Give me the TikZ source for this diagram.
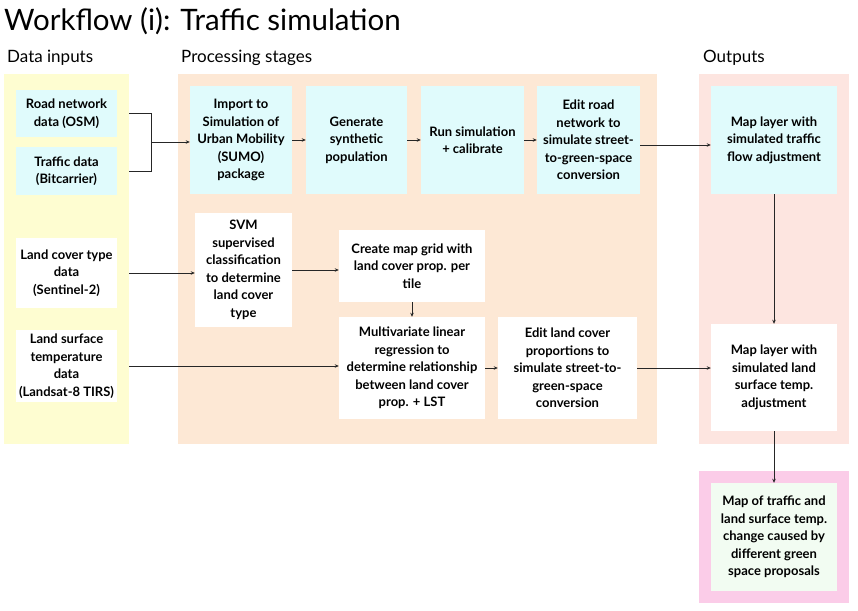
\documentclass[tikz,border=0pt]{standalone}
\usepackage{fontspec}
\setmainfont{Lato}
\usetikzlibrary{arrows.meta}

\definecolor{light-cyan}{RGB}{224, 251, 252}
\definecolor{light-yellow}{RGB}{254, 253, 209}
\definecolor{light-orange}{RGB}{253, 232, 213}
\definecolor{light-pink}{RGB}{253, 229, 224}
\definecolor{bright-pink}{RGB}{251, 204, 232}
\definecolor{light-green}{RGB}{242, 252, 242}

\begin{document}
\begin{tikzpicture}[
        x=1pt, y=-1pt,
        every node/.style={shape=rectangle, inner sep=0pt, align=center},
        box/.style={font=\bfseries\fontsize{13}{17.5}\selectfont},
        heading/.style={anchor=base west, font=\fontsize{17}{20}\selectfont},
        link/.style={draw=black!85, line width=0.7pt},
        arrow/.style={link, -{Stealth[length=4pt, width=3.5pt]}},
    ]
        \useasboundingbox (0,0) rectangle (858,610);

        \node[anchor=base west, font=\fontsize{29.5}{34}\selectfont] (title) at (4,31) {Workflow (i): Traffic simulation};
        \node[heading] (inhead) at (7,63) {Data inputs};
        \node[heading] (prochead) at (181,63) {Processing stages};
        \node[heading] (outhead) at (703,63) {Outputs};

        \node[fill=light-yellow, minimum width=125, minimum height=370] (inputs) at (66.5,259) {};
        \node[fill=light-orange, minimum width=479, minimum height=370] (stages) at (417.5,259) {};
        \node[fill=light-pink, minimum width=150, minimum height=370] (outputs) at (774,259) {};
        \node[fill=bright-pink, minimum width=150, minimum height=132] (finalpanel) at (774,537) {};

        \node[box, fill=light-cyan, minimum width=101, minimum height=47] (road) at (66.5,113.5) {Road network\\data (OSM)};
        \node[box, fill=light-cyan, minimum width=101, minimum height=48] (traffic) at (66.5,171) {Traffic data\\(Bitcarrier)};
        \node[box, fill=white, minimum width=101, minimum height=70] (landcover) at (66.5,273) {Land cover type\\data\\(Sentinel-2)};
        \node[box, fill=white, minimum width=101, minimum height=72] (lst) at (66.5,366) {Land surface\\temperature\\data\\(Landsat-8 TIRS)};

        \node[box, fill=light-cyan, minimum width=102, minimum height=108] (import) at (241,140) {Import to\\Simulation of\\Urban Mobility\\(SUMO)\\package};
        \node[box, fill=light-cyan, minimum width=101, minimum height=108] (generate) at (356.5,140) {Generate\\synthetic\\population};
        \node[box, fill=light-cyan, minimum width=103, minimum height=108] (run) at (472.5,140) {Run simulation\\+ calibrate};
        \node[box, fill=light-cyan, minimum width=103, minimum height=108] (editroad) at (588.5,140) {Edit road\\network to\\simulate street-\\to-green-space\\conversion};
        \node[box, fill=white, minimum width=97, minimum height=114] (svm) at (243.5,270) {SVM\\supervised\\classification\\to determine\\land cover\\type};
        \node[box, fill=white, minimum width=146, minimum height=72] (grid) at (412,266) {Create map grid with\\land cover prop. per\\tile};
        \node[box, fill=white, minimum width=146, minimum height=102] (mlr) at (412,368) {Multivariate linear\\regression to\\determine relationship\\between land cover\\prop. + LST};
        \node[box, fill=white, minimum width=139, minimum height=102] (editlc) at (567.5,368) {Edit land cover\\proportions to\\simulate street-to-\\green-space\\conversion};

        \node[box, fill=light-cyan, minimum width=126, minimum height=108] (maptraffic) at (774,140) {Map layer with\\simulated traffic\\flow adjustment};
        \node[box, fill=white, minimum width=126, minimum height=107] (maplst) at (774,377.5) {Map layer with\\simulated land\\surface temp.\\adjustment};
        \node[box, fill=light-green, minimum width=126, minimum height=108] (final) at (774,537) {Map of traffic and\\land surface temp.\\change caused by\\different green\\space proposals};

        \coordinate (merge) at (151,142);
        \draw[link] (road.east -| inputs.east) -| (merge);
        \draw[link] (traffic.east -| inputs.east) -| (merge);
        \draw[arrow] (merge) -- (merge -| import.west);
        \draw[arrow] (import.east) -- (generate.west);
        \draw[arrow] (generate.east) -- (run.west);
        \draw[arrow] (run.east) -- (editroad.west);
        \draw[arrow] ([yshift=-5pt]editroad.east) -- ([yshift=-5pt]editroad.east -| maptraffic.west);
        \draw[arrow] (landcover.east -| inputs.east) -- (landcover.east -| svm.west);
        \draw[arrow] (svm.east) -- (svm.east -| grid.west);
        \draw[arrow] (grid.south) -- (mlr.north);
        \draw[arrow] (lst.east -| inputs.east) -- (lst.east -| mlr.west);
        \draw[arrow] (mlr.east) -- (editlc.west);
        \draw[arrow] (editlc.east) -- (editlc.east -| maplst.west);
        \draw[arrow] (maptraffic.south) -- (maplst.north);
        \draw[arrow] (maplst.south) -- (final.north);
\end{tikzpicture}
\end{document}
